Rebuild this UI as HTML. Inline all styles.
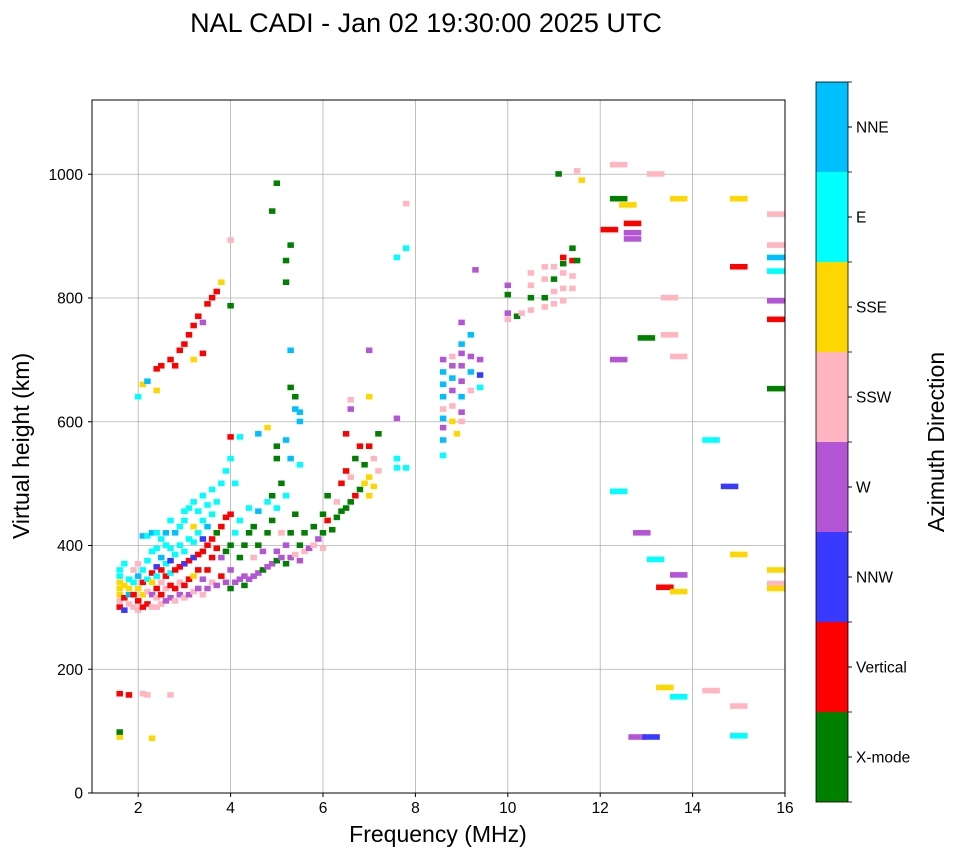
<!DOCTYPE html>
<html><head><meta charset="utf-8"><style>
body{margin:0;background:#fff;font-family:"Liberation Sans","DejaVu Sans",sans-serif}
</style></head><body>
<svg id="chart" width="958" height="857" xmlns="http://www.w3.org/2000/svg" font-family="Liberation Sans, DejaVu Sans, sans-serif">
<text x="426" y="32" font-size="27" text-anchor="middle">NAL CADI - Jan 02 19:30:00 2025 UTC</text>
<g id="grid"></g>
<g id="marks"></g>
<rect x="92" y="100" width="693" height="693" fill="none" stroke="#000" stroke-width="1"/>
<g id="axes"></g>
<text x="438" y="842" font-size="23" text-anchor="middle">Frequency (MHz)</text>
<text transform="translate(29,446) rotate(-90)" font-size="23" text-anchor="middle">Virtual height (km)</text>
<g id="cbar"></g>
<text transform="translate(944,442) rotate(-90)" font-size="23" text-anchor="middle">Azimuth Direction</text>
</svg>
<script>
const directions = ["X-mode","Vertical","NNW","W","SSW","SSE","E","NNE"];
const dirColors = ["#008000","#ff0000","#3a3aff","#b455d6","#ffb6c1","#ffd700","#00ffff","#00bfff"];
const xTicks = [2,4,6,8,10,12,14,16];
const yTicks = [0,200,400,600,800,1000];
const echoes = [
[1.6,300,1],[1.6,310,4],[1.6,320,5],[1.6,330,5],[1.6,340,5],[1.6,350,6],[1.6,360,6],[1.7,295,2],[1.7,315,1],[1.7,335,5],[1.7,370,6],[1.8,305,4],[1.8,320,7],[1.8,345,6],[1.8,330,5],[1.9,300,4],[1.9,320,1],[1.9,340,6],[1.9,360,4],[2.0,295,4],[2.0,310,1],[2.0,330,5],[2.0,350,7],[2.0,370,4],[2.1,300,1],[2.1,320,5],[2.1,340,1],[2.1,360,6],[2.1,415,7],[2.2,305,1],[2.2,325,4],[2.2,345,6],[2.2,375,6],[2.2,415,6],[2.3,300,4],[2.3,320,3],[2.3,340,5],[2.3,355,1],[2.3,390,6],[2.3,420,7],[2.4,300,4],[2.4,315,4],[2.4,330,1],[2.4,350,6],[2.4,365,2],[2.4,395,6],[2.4,420,6],[2.5,305,4],[2.5,320,1],[2.5,340,4],[2.5,360,1],[2.5,380,7],[2.5,410,6],[2.6,310,3],[2.6,330,4],[2.6,350,1],[2.6,370,6],[2.6,400,6],[2.6,420,7],[2.7,315,3],[2.7,335,1],[2.7,355,6],[2.7,375,2],[2.7,395,6],[2.7,440,6],[2.8,310,4],[2.8,330,1],[2.8,360,1],[2.8,385,6],[2.8,420,7],[2.9,320,3],[2.9,340,4],[2.9,365,1],[2.9,400,6],[2.9,430,6],[3.0,315,4],[3.0,335,1],[3.0,370,2],[3.0,390,6],[3.0,440,6],[3.0,455,6],[3.1,320,3],[3.1,345,1],[3.1,375,1],[3.1,410,6],[3.1,460,6],[3.2,325,4],[3.2,350,5],[3.2,380,2],[3.2,405,6],[3.2,430,5],[3.2,470,6],[3.3,330,3],[3.3,360,1],[3.3,385,1],[3.3,420,6],[3.3,455,6],[3.4,320,4],[3.4,345,3],[3.4,390,1],[3.4,410,2],[3.4,440,6],[3.4,480,6],[3.5,330,3],[3.5,360,1],[3.5,400,1],[3.5,430,7],[3.5,465,6],[3.6,340,4],[3.6,380,1],[3.6,410,1],[3.6,450,6],[3.6,490,6],[3.7,335,3],[3.7,395,1],[3.7,420,0],[3.7,470,6],[3.8,350,1],[3.8,380,3],[3.8,430,1],[3.8,500,6],[3.9,340,3],[3.9,390,0],[3.9,445,1],[3.9,520,6],[4.0,330,0],[4.0,360,3],[4.0,400,0],[4.0,450,1],[4.0,540,6],[4.0,575,1],[4.1,340,3],[4.1,420,6],[4.1,500,6],[4.2,345,3],[4.2,380,0],[4.2,440,6],[4.2,575,6],[4.3,335,0],[4.3,350,3],[4.3,400,0],[4.4,345,3],[4.4,420,0],[4.4,460,6],[4.5,350,3],[4.5,380,4],[4.5,430,0],[4.6,355,3],[4.6,400,0],[4.6,455,7],[4.7,360,0],[4.7,390,3],[4.8,365,3],[4.8,420,0],[4.8,470,6],[4.9,370,3],[4.9,440,0],[4.9,480,0],[5.0,375,0],[5.0,390,3],[5.0,460,6],[5.0,540,0],[5.1,380,3],[5.1,420,4],[5.1,500,0],[5.2,370,0],[5.2,400,3],[5.2,480,6],[5.3,380,3],[5.3,420,0],[5.3,540,7],[5.4,385,4],[5.4,450,0],[5.4,620,7],[5.5,375,3],[5.5,400,0],[5.5,530,6],[5.6,390,4],[5.6,420,0],[5.7,395,3],[5.8,400,4],[5.8,430,0],[5.9,410,3],[6.0,395,4],[6.0,420,0],[6.0,450,0],[6.1,440,1],[6.1,480,0],[6.2,425,0],[6.3,445,0],[6.3,470,4],[6.4,455,0],[6.4,500,1],[6.5,460,0],[6.5,520,1],[6.5,580,1],[6.6,470,0],[6.6,510,4],[6.6,620,3],[6.6,635,4],[6.7,480,1],[6.7,540,0],[6.8,490,0],[6.8,560,1],[6.9,500,5],[6.9,530,0],[7.0,480,5],[7.0,510,5],[7.0,560,1],[7.0,640,5],[7.1,495,5],[7.1,540,4],[7.2,520,4],[7.2,580,0],[7.6,540,6],[7.6,525,6],[7.6,605,3],[7.8,525,6],[7.8,880,6],[7.6,865,6],[7.0,715,3],
[2.0,640,6],[2.1,660,5],[2.2,665,7],[2.4,685,1],[2.5,690,1],[2.7,700,1],[2.8,690,1],[2.9,715,1],[3.0,725,1],[3.1,740,1],[3.2,755,1],[3.3,770,1],[3.4,760,3],[3.4,710,1],[3.5,790,1],[3.6,800,1],[3.7,810,1],[3.8,825,5],[2.4,650,5],[3.2,700,5],
[5.0,985,0],[4.9,940,0],[5.2,860,0],[5.2,825,0],[5.3,885,0],[5.3,715,7],[5.3,655,0],[5.4,640,0],[5.5,600,7],[5.5,615,7],[4.6,580,7],[4.8,590,5],[5.2,570,7],[5.0,560,0],
[8.6,545,6],[8.6,570,7],[8.6,590,3],[8.6,605,7],[8.6,620,4],[8.6,640,7],[8.6,660,7],[8.6,680,7],[8.6,700,3],[8.8,600,5],[8.8,625,4],[8.8,650,3],[8.8,670,7],[8.8,690,3],[8.8,705,4],[9.0,615,3],[9.0,640,7],[9.0,665,3],[9.0,690,3],[9.0,710,3],[9.0,725,7],[9.0,760,3],[9.2,650,4],[9.2,680,7],[9.2,705,3],[9.2,740,7],[9.4,655,6],[9.4,675,2],[9.4,700,3],[9.0,600,4],[9.3,845,3],[8.9,580,5],
[10.0,765,4],[10.0,775,3],[10.0,805,0],[10.0,820,3],[10.2,770,0],[10.3,775,4],[10.5,780,4],[10.5,800,0],[10.5,820,4],[10.5,840,4],[10.8,785,4],[10.8,800,0],[10.8,830,4],[10.8,850,4],[11.0,790,4],[11.0,810,4],[11.0,830,0],[11.0,850,4],[11.2,795,4],[11.2,815,4],[11.2,840,4],[11.2,855,0],[11.4,815,4],[11.4,835,4],[11.4,860,1],[11.4,880,0],[11.5,860,0],[11.1,1000,0],[11.5,1005,4],[11.6,990,5],[11.2,865,1],
[12.4,1015,4],[12.4,960,0],[12.6,950,5],[12.7,920,1],[12.7,905,3],[12.7,895,3],[12.2,910,1],[12.4,700,3],[13.2,1000,4],[13.7,960,5],[13.0,735,0],[13.5,800,4],[13.5,740,4],[13.7,705,4],[14.4,570,6],[14.8,495,2],[12.4,487,6],[12.9,420,3],[13.2,377,6],[13.4,332,1],[13.7,352,3],[13.7,325,5],[13.4,170,5],[13.7,155,6],[14.4,165,4],[15.0,140,4],[12.8,90,3],[13.1,90,2],[15.0,92,6],[15.0,385,5],[15.0,960,5],[15.0,850,1],[15.8,935,4],[15.8,885,4],[15.8,865,7],[15.8,843,6],[15.8,795,3],[15.8,765,1],[15.8,653,0],[15.8,360,5],[15.8,338,4],[15.8,330,5],[4.0,893,4],[4.0,787,0],[7.8,952,4],
[1.6,160,1],[1.8,158,1],[2.1,160,4],[2.2,158,4],[2.7,158,4],[1.6,90,5],[1.6,98,0],[2.3,88,5]
];
const freqs = echoes.map(e=>e[0]);
const heights = echoes.map(e=>e[1]);
const dirs = echoes.map(e=>e[2]);

const NS="http://www.w3.org/2000/svg";
const X0=92,X1=785,Y0=793,Y1=100;
const xScale=f=>X0+(f-1)/15*(X1-X0);
const yScale=h=>Y0-h/1120*(Y0-Y1);
function mk(tag,attrs,parent){const e=document.createElementNS(NS,tag);for(const k in attrs)e.setAttribute(k,attrs[k]);parent.appendChild(e);return e;}
const grid=document.getElementById('grid'),axes=document.getElementById('axes'),marks=document.getElementById('marks'),cbar=document.getElementById('cbar');
xTicks.forEach(t=>{const x=xScale(t);
 const g=mk('line',{x1:x,x2:x,y1:Y1,y2:Y0,stroke:'#b0b0b0','stroke-width':0.8},grid);
 
 
 mk('line',{x1:x,x2:x,y1:Y0,y2:Y0+4,stroke:'#000'},axes);
 const tx=mk('text',{x:x,y:Y0+20,'font-size':15.5,'text-anchor':'middle'},axes);tx.textContent=t;
 
 
});
yTicks.forEach(t=>{const y=yScale(t);
 const g=mk('line',{x1:X0,x2:X1,y1:y,y2:y,stroke:'#b0b0b0','stroke-width':0.8},grid);
 
 
 mk('line',{x1:X0-4,x2:X0,y1:y,y2:y,stroke:'#000'},axes);
 const tx=mk('text',{x:X0-9,y:y+5.5,'font-size':15.5,'text-anchor':'end'},axes);tx.textContent=t;
 
 
});
freqs.forEach((f,i)=>{
 const w=f>12?0.38:0.14;
 const r=mk('rect',{x:xScale(f-w/2),y:yScale(heights[i]+5),width:xScale(w)-xScale(0),height:yScale(0)-yScale(9),fill:dirColors[dirs[i]]},marks);
 
 
});
const CB_X=816,CB_W=32,CB_T=82,CB_B=802,n=directions.length,bh=(CB_B-CB_T)/n;
directions.forEach((d,i)=>{
 const y=CB_B-(i+1)*bh;
 const r=mk('rect',{x:CB_X,y:y,width:CB_W,height:bh,fill:dirColors[i]},cbar);
 
 
 mk('line',{x1:CB_X+CB_W,x2:CB_X+CB_W+4,y1:y+bh/2,y2:y+bh/2,stroke:'#000'},cbar);
 const t=mk('text',{x:CB_X+CB_W+8,y:y+bh/2+5.5,'font-size':15.5},cbar);t.textContent=d;
 
 
});
for(let i=0;i<=n;i++){const y=CB_B-i*bh;mk('line',{x1:CB_X+CB_W,x2:CB_X+CB_W+4,y1:y,y2:y,stroke:'#000','stroke-width':0.8},cbar);}
mk('rect',{x:CB_X,y:CB_T,width:CB_W,height:CB_B-CB_T,fill:'none',stroke:'#000','stroke-width':0.8},cbar);
</script>
</body></html>
